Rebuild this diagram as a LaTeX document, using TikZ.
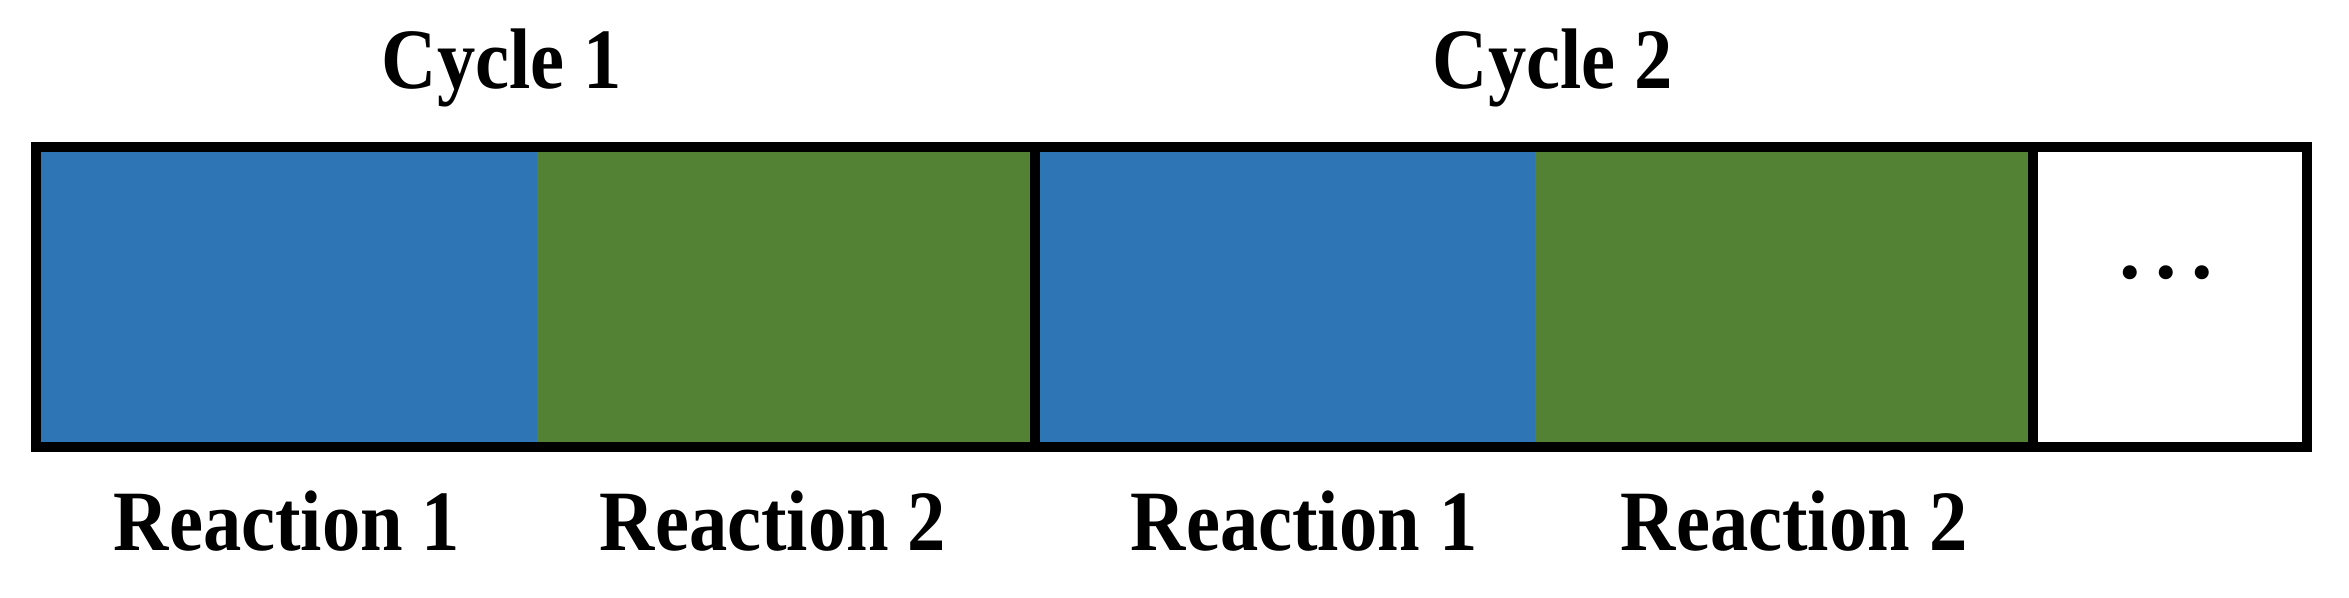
\documentclass[tikz,border=0pt]{standalone}
\usepackage{fontspec}
\usepackage{graphicx}
\setmainfont{Liberation Serif}
\definecolor{rblue}{RGB}{46,117,182}
\definecolor{rgreen}{RGB}{84,130,53}
\begin{document}
\begin{tikzpicture}[x=1pt,y=-1pt,
  seg/.style={rectangle, inner sep=0pt, outer sep=0pt, minimum height=300pt, anchor=north west},
  lbl/.style={inner sep=0pt, anchor=base, font=\fontsize{86}{100}\selectfont\bfseries},
  frame/.style={line width=10pt, draw=black}]
\useasboundingbox (0,0) rectangle (2349,597);
\fill[white] (0,0) rectangle (2349,597);
% segments
\node[seg, fill=rblue, minimum width=501pt] (b1) at (36,147) {};
\node[seg, fill=rgreen, minimum width=498pt] (g1) at (537,147) {};
\node[seg, fill=rblue, minimum width=500pt] (b2) at (1035,147) {};
\node[seg, fill=rgreen, minimum width=498pt] (g2) at (1535,147) {};
\node[seg, fill=white, minimum width=274pt] (w) at (2033,147) {};
% frame and dividers
\draw[frame] (b1.north west) rectangle (w.south east);
\draw[frame] (b2.north west) -- (b2.south west);
\draw[frame] (w.north west) -- (w.south west);
% dots
\node[lbl] (dots) at (2166,278) {.\kern0.17em.\kern0.17em.};
% labels
\node[lbl] (c1) at (502,88) {\scalebox{0.89}[1]{Cycle 1}};
\node[lbl] (c2) at (1553,88) {\scalebox{0.89}[1]{Cycle 2}};
\node[lbl] (r1a) at (287,550) {\scalebox{0.89}[1]{Reaction 1}};
\node[lbl] (r2a) at (773,550) {\scalebox{0.89}[1]{Reaction 2}};
\node[lbl] (r1b) at (1304,550) {\scalebox{0.89}[1]{Reaction 1}};
\node[lbl] (r2b) at (1794,550) {\scalebox{0.89}[1]{Reaction 2}};
\end{tikzpicture}
\end{document}
